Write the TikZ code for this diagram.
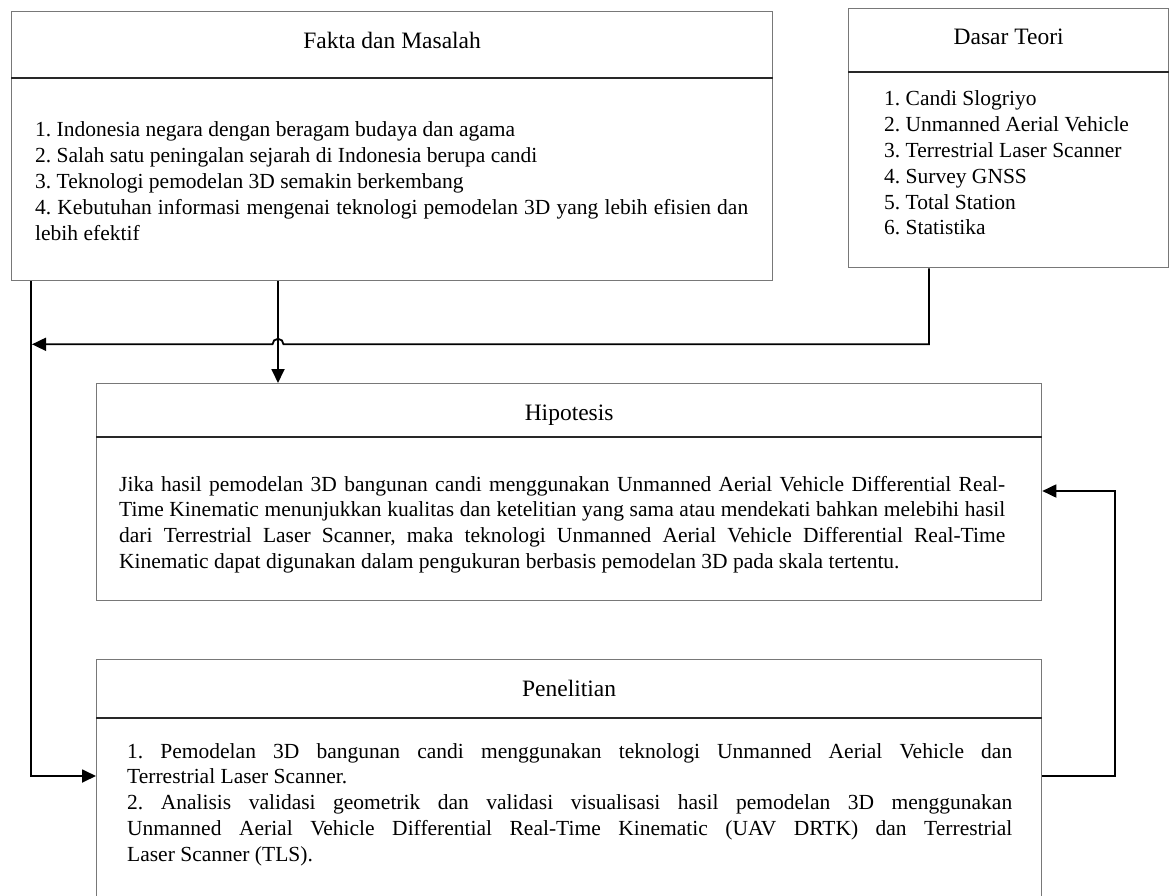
\documentclass[tikz,border=0pt]{standalone}
\usepackage{fontspec}
\setmainfont{Liberation Serif}
\usetikzlibrary{arrows.meta,calc}
\definecolor{boxgray}{RGB}{120,120,120}
\definecolor{divgray}{RGB}{40,40,40}
\newdimen\linew
\newcommand\Jf[1]{\hbox to\linew{#1}}
\newcommand\Lf[1]{\hbox{#1}}
\frenchspacing
\begin{document}
\begin{tikzpicture}[x=1pt,y=1pt,
  box/.style={draw=boxgray, line width=1.3pt, anchor=north west, inner sep=0pt},
  divider/.style={draw=divgray, line width=1.8pt},
  title/.style={anchor=base, inner sep=0pt, font=\fontsize{23.5}{27}\selectfont},
  body/.style={anchor=base west, inner sep=0pt, font=\fontsize{21.5}{25.8}\selectfont\frenchspacing},
  conn/.style={draw=black, line width=1.8pt},
  arr/.style={conn, -{Triangle[length=14pt,width=13pt]}}]
\useasboundingbox (0,0) rectangle (1170,-896);

% boxes
\node[box, minimum width=761pt, minimum height=269pt] (fakta) at (11,-11) {};
\node[box, minimum width=320pt, minimum height=259pt] (dasar) at (848,-8) {};
\node[box, minimum width=945pt, minimum height=217pt] (hip) at (96,-383) {};
\node[box, minimum width=945pt, minimum height=270pt] (pen) at (96,-659) {};

% dividers
\draw[divider] ($(fakta.north west)+(0,-67)$) -- ($(fakta.north east)+(0,-67)$);
\draw[divider] ($(dasar.north west)+(0,-64)$) -- ($(dasar.north east)+(0,-64)$);
\draw[divider] ($(hip.north west)+(0,-54)$) -- ($(hip.north east)+(0,-54)$);
\draw[divider] ($(pen.north west)+(0,-59)$) -- ($(pen.north east)+(0,-59)$);

% titles
\node[title] (faktaT) at ($(fakta.north)+(0,-38)$) {Fakta dan Masalah};
\node[title] (dasarT) at ($(dasar.north)+(0,-37)$) {Dasar Teori};
\node[title] (hipT) at ($(hip.north)+(0,-37)$) {Hipotesis};
\node[title] (penT) at ($(pen.north)+(0,-37)$) {Penelitian};

% bodies
\node[body] (faktaB) at (35,-137) {\linew=713pt\vtop{\hsize=\linew
  \Lf{1. Indonesia negara dengan beragam budaya dan agama}
  \Lf{2. Salah satu peningalan sejarah di Indonesia berupa candi}
  \Lf{3. Teknologi pemodelan 3D semakin berkembang}
  \Jf{4. Kebutuhan informasi mengenai teknologi pemodelan 3D yang lebih efisien dan}
  \Lf{lebih efektif}}};

\node[body] (dasarB) at (884,-106) {\vtop{\hsize=270pt
  \Lf{1. Candi Slogriyo}
  \Lf{2. Unmanned Aerial Vehicle}
  \Lf{3. Terrestrial Laser Scanner}
  \Lf{4. Survey GNSS}
  \Lf{5. Total Station}
  \Lf{6. Statistika}}};

\node[body] (hipB) at (119,-491) {\linew=886pt\vtop{\hsize=\linew
  \Jf{Jika hasil pemodelan 3D bangunan candi menggunakan Unmanned Aerial Vehicle Differential Real-}
  \Jf{Time Kinematic menunjukkan kualitas dan ketelitian yang sama atau mendekati bahkan melebihi hasil}
  \Jf{dari Terrestrial Laser Scanner, maka teknologi Unmanned Aerial Vehicle Differential Real-Time}
  \Lf{Kinematic dapat digunakan dalam pengukuran berbasis pemodelan 3D pada skala tertentu.}}};

\node[body] (penB) at (127,-758) {\linew=885pt\vtop{\hsize=\linew
  \Jf{1. Pemodelan 3D bangunan candi menggunakan teknologi Unmanned Aerial Vehicle dan}
  \Lf{Terrestrial Laser Scanner.}
  \Jf{2. Analisis validasi geometrik dan validasi visualisasi hasil pemodelan 3D menggunakan}
  \Jf{Unmanned Aerial Vehicle Differential Real-Time Kinematic (UAV DRTK) dan Terrestrial}
  \Lf{Laser Scanner (TLS).}}};

% connector coordinates
\coordinate (fL) at ($(fakta.south west)+(20,0)$);
\coordinate (fM) at ($(fakta.south west)+(267,0)$);
\coordinate (dS) at ($(dasar.south west)+(81,0)$);
\coordinate (dC) at ($(dS)+(0,-76)$);
\coordinate (penIn) at (pen.west |- 0,-776);
\coordinate (penOut) at (pen.east |- 0,-776);
\coordinate (hipIn) at (hip.east |- 0,-491);
\coordinate (loopR) at (1115,-776);
\coordinate (loopT) at (1115,-491);

% left line into Penelitian
\draw[arr] (fL) |- (penIn);
% Fakta down to Hipotesis
\draw[arr] (fM) -- (fM |- hip.north);
% Dasar Teori to left line with hop
\draw[arr] (dS) -- (dC) -- ($(fM |- dC)+(5.5,0)$)
  arc[start angle=0, end angle=180, radius=5.5] -- ($(fL |- dC)+(1,0)$);
% Penelitian back to Hipotesis
\draw[arr] (penOut) -- (loopR) -- (loopT) -- (hipIn);
\end{tikzpicture}
\end{document}
